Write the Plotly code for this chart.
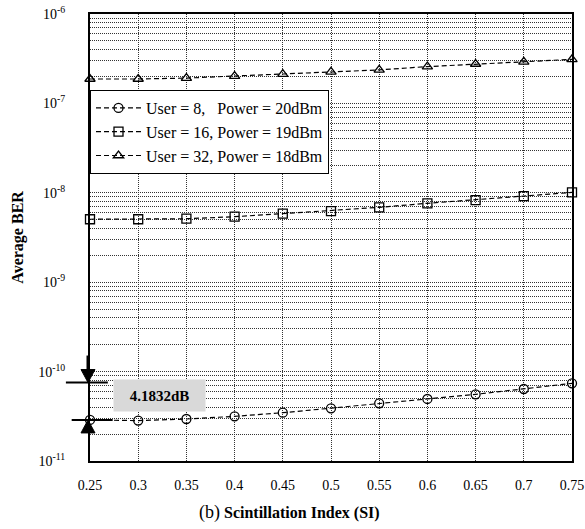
import plotly.graph_objects as go

si = [0.25, 0.3, 0.35, 0.4, 0.45, 0.5, 0.55, 0.6, 0.65, 0.7, 0.75]
ber_u8 = [2.88e-11, 2.83e-11, 2.95e-11, 3.16e-11, 3.47e-11, 3.88e-11, 4.42e-11, 4.94e-11, 5.57e-11, 6.39e-11, 7.39e-11]
ber_u16 = [5.06e-9, 5.06e-9, 5.13e-9, 5.40e-9, 5.85e-9, 6.25e-9, 6.88e-9, 7.63e-9, 8.30e-9, 9.20e-9, 1.01e-8]
ber_u32 = [1.875e-7, 1.875e-7, 1.92e-7, 2.02e-7, 2.13e-7, 2.25e-7, 2.37e-7, 2.58e-7, 2.76e-7, 2.92e-7, 3.11e-7]
names = ["User = 8,\u00a0\u00a0\u00a0Power = 20dBm", "User = 16, Power = 19dBm", "User = 32, Power = 18dBm"]
symbols = ["circle-open", "square-open", "triangle-up-open"]
x_ticks = [0.25, 0.3, 0.35, 0.4, 0.45, 0.5, 0.55, 0.6, 0.65, 0.7, 0.75]
x_ticktext = ["0.25", "0.3", "0.35", "0.4", "0.45", "0.5", "0.55", "0.6", "0.65", "0.7", "0.75"]
y_ticks = [1e-11, 1e-10, 1e-9, 1e-8, 1e-7, 1e-6]
y_ticktext = ["10<sup>-11</sup>", "10<sup>-10</sup>", "10<sup>-9</sup>", "10<sup>-8</sup>", "10<sup>-7</sup>", "10<sup>-6</sup>"]
gain_db = 4.1832
gain_label = "4.1832dB"

font = "Liberation Serif, Times New Roman, serif"
gridc = "#333333"
gdash = "1px,1px"

fig = go.Figure()
for ys, nm, sym in zip([ber_u8, ber_u16, ber_u32], names, symbols):
    fig.add_trace(go.Scatter(
        x=si, y=ys, name=nm, mode="lines+markers",
        line=dict(color="black", width=1.2, dash="5px,3px"),
        marker=dict(symbol=sym, size=9, color="black", line=dict(color="black", width=1.3)),
        cliponaxis=False,
    ))

low = ber_u8[0]
high = low * 10 ** (gain_db / 10)

# horizontal reference bars
for yv, x0, x1 in [(high, -0.05, 0.037), (low, -0.038, 0.047)]:
    fig.add_shape(type="line", xref="paper", yref="y", x0=x0, x1=x1, y0=yv, y1=yv,
                  line=dict(color="black", width=2))

# arrows (shaft + filled head), anchored at the two reference levels
for yv, sgn in [(high, 1), (low, -1)]:
    fig.add_shape(type="line", xref="paper", yref="y", xsizemode="pixel", ysizemode="pixel",
                  xanchor=0, yanchor=yv, x0=-2, x1=-2, y0=sgn * 10, y1=sgn * 27,
                  line=dict(color="black", width=3))
    fig.add_shape(type="path", xref="paper", yref="y", xsizemode="pixel", ysizemode="pixel",
                  xanchor=0, yanchor=yv,
                  path=f"M -9 {sgn * 13} L 5 {sgn * 13} L -2 0 Z",
                  fillcolor="black", line=dict(color="black", width=1))

fig.add_annotation(x=0.144, y=0.147, xref="paper", yref="paper", xanchor="center", yanchor="middle",
                   text="<b>" + gain_label + "</b>",
                   showarrow=False, bgcolor="#d9d9d9", width=89, height=29,
                   font=dict(family=font, size=15, color="black"))

fig.add_annotation(x=0.414, y=-0.116, xref="paper", yref="paper", xanchor="center", yanchor="middle",
                   text="<span style='font-size:18px'>(b)</span> <b>Scintillation Index (SI)</b>",
                   showarrow=False, font=dict(family=font, size=16, color="black"))

fig.add_annotation(x=-0.151, y=0.5, xref="paper", yref="paper", xanchor="center", yanchor="middle",
                   text="<b>Average BER</b>", textangle=-90,
                   showarrow=False, font=dict(family=font, size=16, color="black"))

fig.update_layout(
    width=585, height=529,
    margin=dict(l=90, r=13, t=14, b=68, autoexpand=False),
    paper_bgcolor="white", plot_bgcolor="white",
    font=dict(family=font, size=13, color="black"),
    showlegend=True,
    legend=dict(x=0.0, y=0.83, xanchor="left", yanchor="top",
                bgcolor="white", bordercolor="black", borderwidth=1,
                font=dict(family=font, size=16, color="black"),
                tracegroupgap=0, itemwidth=45),
)
fig.update_xaxes(
    range=[0.25, 0.75], tickvals=x_ticks, ticktext=x_ticktext, automargin=False,
    showline=True, linecolor="black", linewidth=2, mirror=True,
    showgrid=True, gridcolor=gridc, griddash=gdash, gridwidth=1,
    ticks="", ticklabelstandoff=10, zeroline=False, tickfont=dict(size=14),
)
fig.update_yaxes(
    type="log", range=[-11, -6], tickvals=y_ticks, ticktext=y_ticktext, automargin=False,
    showline=True, linecolor="black", linewidth=2, mirror=True,
    showgrid=True, gridcolor=gridc, griddash=gdash, gridwidth=1,
    minor=dict(dtick="D1", showgrid=True, gridcolor=gridc, griddash=gdash, gridwidth=1, ticks=""),
    ticks="", ticklabelstandoff=20, zeroline=False, tickfont=dict(size=14),
)

fig.write_html("out.html", config={"displayModeBar": False},
               post_script="document.body.style.margin='0px';")
